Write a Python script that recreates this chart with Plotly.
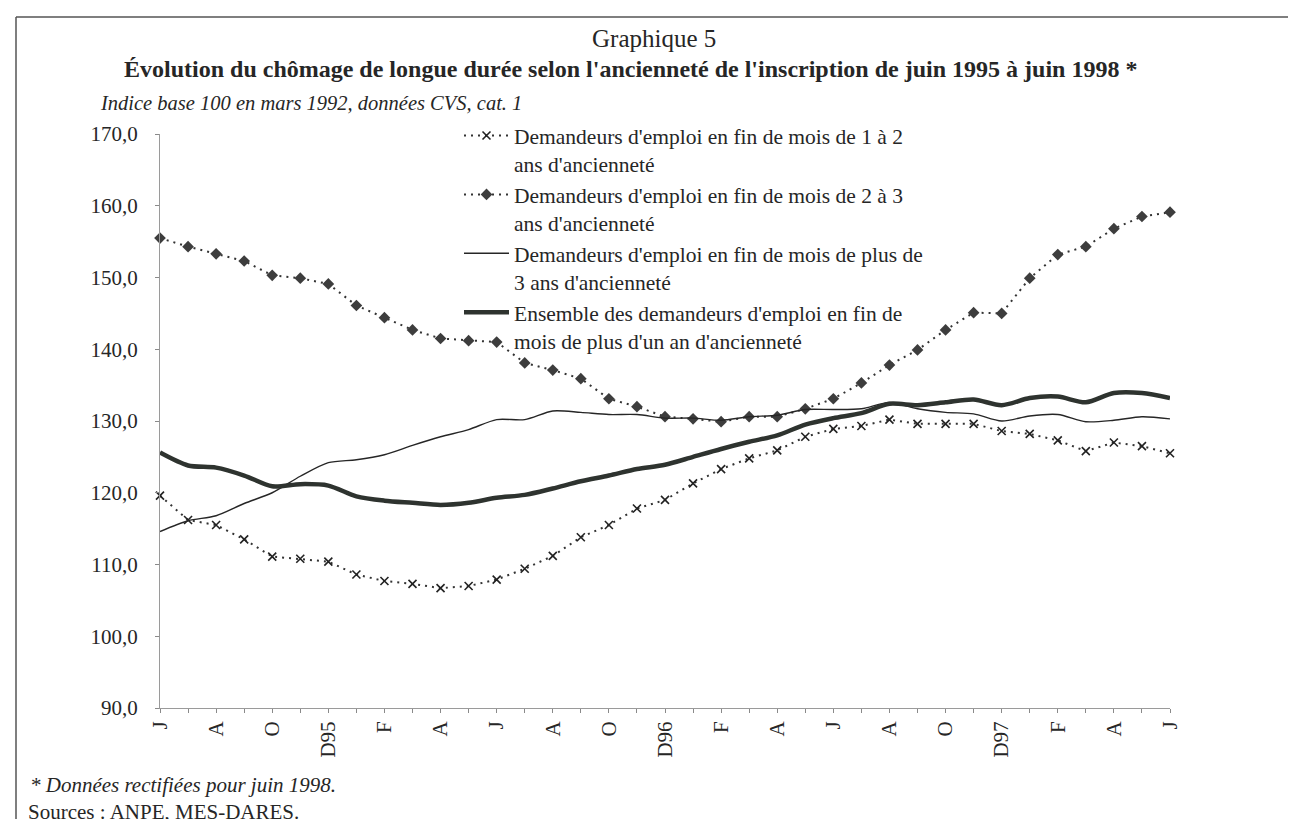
import plotly.graph_objects as go

# ---- data (June 1995 .. June 1998, monthly) ----
months = list(range(37))
tick_labels = ["J", "", "A", "", "O", "", "D95", "", "F", "", "A", "", "J", "", "A", "", "O", "", "D96", "",
               "F", "", "A", "", "J", "", "A", "", "O", "", "D97", "", "F", "", "A", "", "J"]

s_1_2 = [119.6, 116.2, 115.5, 113.5, 111.1, 110.8, 110.4, 108.6, 107.7, 107.3, 106.7, 107.0, 107.9,
         109.4, 111.2, 113.8, 115.5, 117.8, 119.0, 121.3, 123.3, 124.8, 125.9, 127.8, 128.9, 129.3,
         130.2, 129.6, 129.6, 129.6, 128.6, 128.2, 127.3, 125.8, 127.0, 126.5, 125.5]
s_2_3 = [155.5, 154.3, 153.3, 152.3, 150.3, 149.9, 149.1, 146.1, 144.4, 142.7, 141.5, 141.2, 141.0,
         138.1, 137.1, 135.9, 133.1, 132.0, 130.6, 130.3, 129.9, 130.6, 130.6, 131.7, 133.1, 135.3,
         137.8, 139.9, 142.7, 145.1, 145.0, 149.9, 153.2, 154.3, 156.8, 158.5, 159.1]
s_3plus = [114.6, 116.1, 116.8, 118.5, 120.0, 122.3, 124.2, 124.6, 125.3, 126.6, 127.8, 128.8, 130.2,
           130.2, 131.4, 131.2, 130.9, 130.9, 130.4, 130.4, 130.1, 130.6, 130.8, 131.6, 131.6, 131.7,
           132.6, 131.7, 131.2, 131.0, 130.0, 130.7, 130.9, 129.9, 130.1, 130.6, 130.3]
s_all = [125.6, 123.8, 123.5, 122.4, 120.9, 121.2, 121.0, 119.5, 118.9, 118.6, 118.3, 118.6, 119.3,
         119.7, 120.6, 121.6, 122.4, 123.3, 123.9, 125.0, 126.1, 127.1, 128.0, 129.5, 130.4, 131.1,
         132.4, 132.2, 132.6, 133.0, 132.2, 133.2, 133.4, 132.6, 133.9, 133.9, 133.2]

names = [
    "Demandeurs d'emploi en fin de mois de 1 à 2<br>ans d'ancienneté",
    "Demandeurs d'emploi en fin de mois de 2 à 3<br>ans d'ancienneté",
    "Demandeurs d'emploi en fin de mois de plus de<br>3 ans d'ancienneté",
    "Ensemble des demandeurs d'emploi en fin de<br>mois de plus d'un an d'ancienneté",
]

FONT = "Liberation Serif"
INK = "#262626"

W, H = 1296, 819
L, R, T, B = 152, 134, 126, 119
PW, PH = W - L - R, H - T - B


def px(x):
    return (x - L) / PW


def py(y):
    return (H - B - y) / PH


fig = go.Figure()
fig.add_trace(go.Scatter(
    x=months, y=s_1_2, name=names[0], mode="lines+markers", cliponaxis=False,
    line=dict(color="#333333", width=2, dash="2px,5px"),
    marker=dict(symbol="x-thin", size=8, line=dict(color="#222222", width=1.6)),
))
fig.add_trace(go.Scatter(
    x=months, y=s_2_3, name=names[1], mode="lines+markers", cliponaxis=False,
    line=dict(color="#333333", width=2, dash="2px,5px"),
    marker=dict(symbol="diamond", size=9, color="#3d3d3d"),
))
fig.add_trace(go.Scatter(
    x=months, y=s_3plus, name=names[2], mode="lines", cliponaxis=False,
    line=dict(color="#262626", width=1.4, shape="spline", smoothing=0.8),
))
fig.add_trace(go.Scatter(
    x=months, y=s_all, name=names[3], mode="lines", cliponaxis=False,
    line=dict(color="#2e332f", width=4.5, shape="spline", smoothing=0.8),
))

fig.update_layout(
    width=W, height=H,
    margin=dict(l=L, r=R, t=T, b=B),
    paper_bgcolor="white", plot_bgcolor="white",
    separators=", ",
    font=dict(family=FONT, size=20, color=INK),
    showlegend=True,
    legend=dict(
        x=px(451), y=py(107), xanchor="left", yanchor="top",
        font=dict(family=FONT, size=21.5, color=INK),
        bgcolor="rgba(0,0,0,0)", valign="top", itemwidth=45,
        tracegroupgap=0,
    ),
    xaxis=dict(
        range=[0, 36], tickmode="array", tickvals=months, ticktext=tick_labels,
        tickangle=-90, ticks="outside", ticklen=4, tickcolor="#8a8a8a",
        showline=True, linecolor="#9a9a9a", linewidth=1, showgrid=False, zeroline=False,
        tickfont=dict(family=FONT, size=21, color=INK),
    ),
    yaxis=dict(
        range=[90, 170], dtick=10, tickformat=".1f", ticks="outside", ticklen=4,
        tickcolor="#8a8a8a", showline=True, linecolor="#9a9a9a", linewidth=1,
        showgrid=False, zeroline=False, ticklabelstandoff=13,
        tickfont=dict(family=FONT, size=21, color=INK),
    ),
)

# frame around the whole figure
for x0, y0, x1, y1 in [(8, 9, 8, 830), (8, 9, 1290, 9), (1290, 9, 1290, 830)]:
    fig.add_shape(type="line", xref="paper", yref="paper",
                  x0=px(x0), y0=py(y0), x1=px(x1), y1=py(y1),
                  line=dict(color="#555555", width=1.5))

annotations = [
    dict(text="Graphique 5", x=px(646), y=py(31), xanchor="center", yanchor="middle",
         font=dict(family=FONT, size=25, color=INK)),
    dict(text="<b>Évolution du chômage de longue durée selon l'ancienneté de l'inscription de juin 1995 à juin 1998 *</b>",
         x=px(622), y=py(61), xanchor="center", yanchor="middle",
         font=dict(family=FONT, size=24, color=INK)),
    dict(text="<i>Indice base 100 en mars 1992, données CVS, cat. 1</i>", x=px(90), y=py(95),
         xanchor="left", yanchor="middle", font=dict(family=FONT, size=20.5, color=INK)),
    dict(text="<i>* Données rectifiées pour juin 1998.</i>", x=px(20), y=py(777),
         xanchor="left", yanchor="middle", font=dict(family=FONT, size=21, color=INK)),
    dict(text="Sources : ANPE, MES-DARES.", x=px(18), y=py(804),
         xanchor="left", yanchor="middle", font=dict(family=FONT, size=21, color=INK)),
]
for a in annotations:
    fig.add_annotation(xref="paper", yref="paper", showarrow=False, **a)

fig.write_html("out.html")
